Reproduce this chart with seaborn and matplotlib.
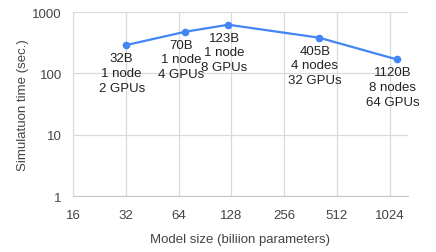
import pandas as pd
import matplotlib
matplotlib.use("Agg")
import matplotlib.pyplot as plt
import seaborn as sns
from matplotlib.ticker import FixedLocator, FixedFormatter, NullLocator

# Data
model_size = [32, 70, 123, 405, 1120]
sim_time = [288, 477, 620, 381, 169]
point_labels = ["32B\n1 node\n2 GPUs", "70B\n1 node\n4 GPUs", "123B\n1 node\n8 GPUs",
                "405B\n4 nodes\n32 GPUs", "1120B\n8 nodes\n64 GPUs"]
x_ticks = [16, 32, 64, 128, 256, 512, 1024]
y_ticks = [1, 10, 100, 1000]

df = pd.DataFrame({"size": model_size, "time": sim_time})

sns.set_style("white")
plt.rcParams['font.family'] = ['Liberation Sans', 'DejaVu Sans']

fig = plt.figure(figsize=(4.36, 2.53), dpi=100)
ax = fig.add_axes([0.1674, 0.2213, 0.7684, 0.7273])

sns.lineplot(data=df, x="size", y="time", ax=ax, color="#4285F4",
             marker="o", markersize=5.5, markeredgewidth=0, linewidth=1.6)

ax.set_xscale("log", base=2)
ax.set_yscale("log")
ax.set_xlim(16, 1300)
ax.set_ylim(1, 1000)

ax.xaxis.set_major_locator(FixedLocator(x_ticks))
ax.xaxis.set_major_formatter(FixedFormatter([str(t) for t in x_ticks]))
ax.xaxis.set_minor_locator(NullLocator())
ax.yaxis.set_major_locator(FixedLocator(y_ticks))
ax.yaxis.set_major_formatter(FixedFormatter([str(t) for t in y_ticks]))
ax.yaxis.set_minor_locator(NullLocator())

ax.grid(True, color="#dadada", linewidth=0.9)
ax.tick_params(axis="x", length=0, labelsize=9.5, colors="#444444", pad=9)
ax.tick_params(axis="y", length=0, labelsize=9.5, colors="#444444", pad=8)
for side in ["top", "right"]:
    ax.spines[side].set_visible(False)
ax.spines["left"].set_color("#dadada")
ax.spines["bottom"].set_color("#c8c8c8")

ax.set_xlabel("Model size (biliion parameters)", fontsize=9.5, color="#444444", labelpad=9)
ax.set_ylabel("Simulatuon time (sec.)", fontsize=9.5, color="#444444", labelpad=2)

for x, y, lab in zip(model_size, sim_time, point_labels):
    ax.annotate(lab, (x, y), xytext=(-3, -5), textcoords="offset points",
                ha="center", va="top", fontsize=9.5, color="#222222", linespacing=1.3)

fig.savefig("out.png", dpi=100)
